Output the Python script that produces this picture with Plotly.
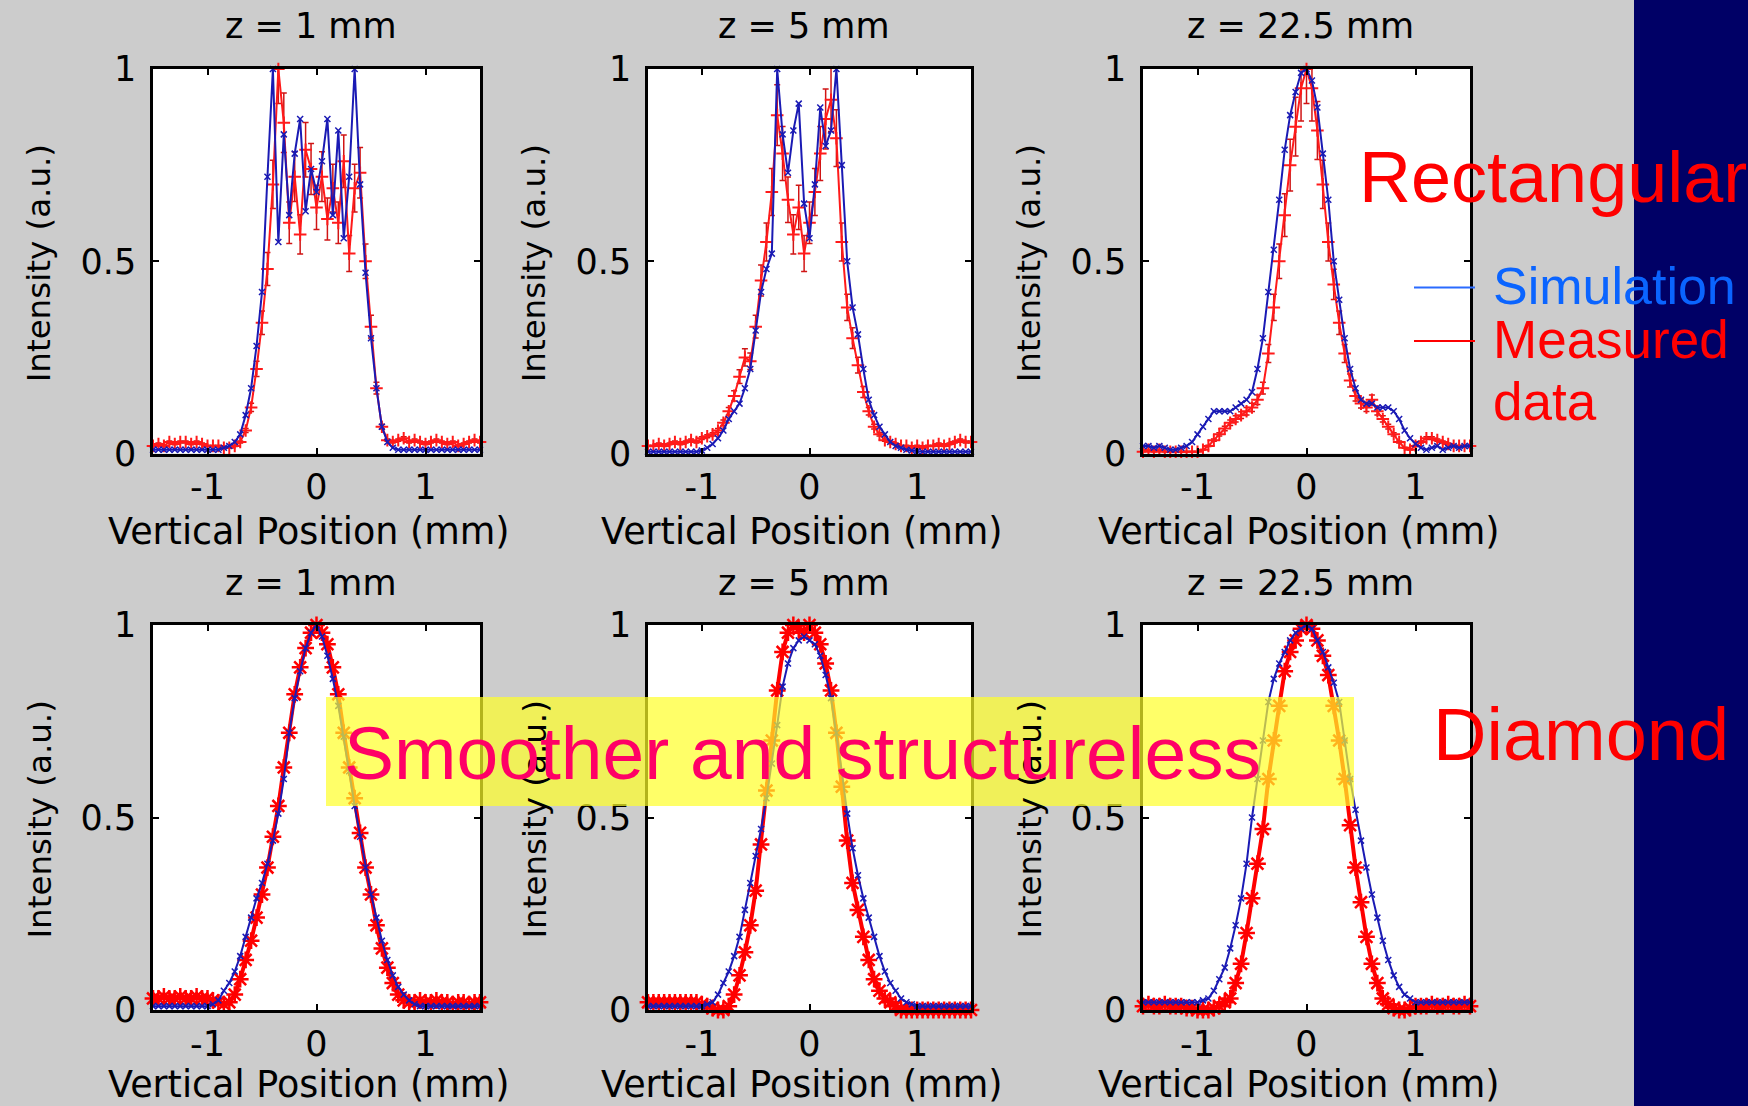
import plotly.graph_objects as go

W, H = 1748, 1106

# ---------------- data ----------------
XPOS = [-1.50, -1.45, -1.40, -1.35, -1.30, -1.25, -1.20, -1.15, -1.10, -1.05,
        -1.00, -0.95, -0.90, -0.85, -0.80, -0.75, -0.70, -0.65, -0.60, -0.55,
        -0.50, -0.45, -0.40, -0.35, -0.30, -0.25, -0.20, -0.15, -0.10, -0.05,
        0.00, 0.05, 0.10, 0.15, 0.20, 0.25, 0.30, 0.35, 0.40, 0.45,
        0.50, 0.55, 0.60, 0.65, 0.70, 0.75, 0.80, 0.85, 0.90, 0.95,
        1.00, 1.05, 1.10, 1.15, 1.20, 1.25, 1.30, 1.35, 1.40, 1.45, 1.50]

# Rectangular, z = 1 mm
SIM_RECT_1 = [0.01, 0.01, 0.01, 0.01, 0.01, 0.01, 0.01, 0.01, 0.01, 0.01, 0.01, 0.01, 0.01, 0.015, 0.02,
              0.03, 0.05, 0.10, 0.17, 0.28, 0.42, 0.72, 1.00, 0.55, 0.83, 0.62, 0.78, 0.87, 0.63, 0.74,
              0.68, 0.76, 0.87, 0.62, 0.84, 0.56, 0.72, 1.00, 0.70, 0.47, 0.30, 0.17, 0.07, 0.03, 0.015,
              0.01, 0.01, 0.01, 0.01, 0.01, 0.01, 0.01, 0.01, 0.01, 0.01, 0.01, 0.01, 0.01, 0.01, 0.01, 0.01]
MEAS_RECT_1 = [0.02, 0.025, 0.02, 0.03, 0.025, 0.03, 0.03, 0.025, 0.03, 0.025, 0.02, 0.02, 0.02, 0.015, 0.015,
               0.02, 0.03, 0.06, 0.12, 0.22, 0.34, 0.48, 0.70, 1.00, 0.86, 0.60, 0.72, 0.57, 0.79, 0.74,
               0.64, 0.72, 0.61, 0.69, 0.60, 0.76, 0.52, 0.69, 0.73, 0.50, 0.33, 0.17, 0.07, 0.035, 0.03,
               0.035, 0.04, 0.03, 0.035, 0.03, 0.025, 0.03, 0.035, 0.03, 0.025, 0.03, 0.02, 0.025, 0.03, 0.035, 0.03]

# Rectangular, z = 5 mm
SIM_RECT_5 = [0.005, 0.005, 0.005, 0.005, 0.005, 0.005, 0.005, 0.005, 0.005, 0.005, 0.008, 0.015, 0.025, 0.04, 0.06,
              0.09, 0.11, 0.13, 0.17, 0.22, 0.32, 0.42, 0.48, 0.52, 1.00, 0.83, 0.73, 0.84, 0.91, 0.65,
              0.56, 0.70, 0.90, 0.80, 0.84, 1.00, 0.75, 0.50, 0.38, 0.31, 0.22, 0.14, 0.10, 0.07, 0.05,
              0.03, 0.02, 0.015, 0.01, 0.008, 0.006, 0.005, 0.005, 0.005, 0.005, 0.005, 0.005, 0.005, 0.005, 0.005, 0.005]
MEAS_RECT_5 = [0.02, 0.02, 0.025, 0.02, 0.025, 0.03, 0.025, 0.03, 0.035, 0.03, 0.04, 0.045, 0.05, 0.06, 0.08,
               0.11, 0.15, 0.20, 0.25, 0.24, 0.33, 0.45, 0.55, 0.68, 0.88, 0.78, 0.66, 0.57, 0.64, 0.52,
               0.60, 0.68, 0.78, 0.87, 0.92, 0.82, 0.55, 0.38, 0.30, 0.23, 0.16, 0.11, 0.07, 0.05, 0.035,
               0.03, 0.025, 0.02, 0.02, 0.015, 0.02, 0.015, 0.02, 0.02, 0.025, 0.02, 0.025, 0.03, 0.035, 0.03, 0.03]

# Rectangular, z = 22.5 mm
SIM_RECT_22 = [0.02, 0.02, 0.015, 0.02, 0.015, 0.01, 0.01, 0.015, 0.02, 0.03, 0.05, 0.07, 0.09, 0.11, 0.11,
               0.11, 0.11, 0.12, 0.13, 0.14, 0.16, 0.22, 0.30, 0.42, 0.53, 0.66, 0.79, 0.88, 0.94, 0.99,
               1.00, 0.97, 0.90, 0.78, 0.66, 0.50, 0.40, 0.30, 0.22, 0.17, 0.14, 0.13, 0.13, 0.12, 0.12,
               0.12, 0.11, 0.09, 0.06, 0.04, 0.025, 0.015, 0.01, 0.015, 0.02, 0.01, 0.015, 0.02, 0.015, 0.02, 0.02]
MEAS_RECT_22 = [0.005, 0.01, 0.005, 0.01, 0.005, 0.005, 0.005, 0.005, 0.005, 0.005, 0.005, 0.01, 0.02, 0.035, 0.05,
                0.065, 0.08, 0.09, 0.10, 0.11, 0.12, 0.14, 0.17, 0.26, 0.38, 0.50, 0.62, 0.75, 0.85, 0.95,
                1.00, 0.95, 0.84, 0.70, 0.55, 0.44, 0.34, 0.26, 0.19, 0.15, 0.13, 0.12, 0.14, 0.11, 0.09,
                0.07, 0.05, 0.03, 0.015, 0.01, 0.02, 0.03, 0.04, 0.04, 0.035, 0.03, 0.025, 0.02, 0.02, 0.02, 0.02]

# Diamond, z = 1 mm
SIM_DIA_1 = [0.01, 0.01, 0.01, 0.01, 0.01, 0.01, 0.01, 0.01, 0.01, 0.01, 0.01, 0.015, 0.025, 0.05, 0.07,
             0.10, 0.14, 0.19, 0.24, 0.29, 0.33, 0.38, 0.44, 0.51, 0.60, 0.72, 0.81, 0.88, 0.94, 0.98,
             1.00, 0.97, 0.92, 0.86, 0.79, 0.71, 0.62, 0.53, 0.45, 0.37, 0.30, 0.24, 0.18, 0.13, 0.09,
             0.06, 0.04, 0.025, 0.015, 0.01, 0.01, 0.01, 0.01, 0.01, 0.01, 0.01, 0.01, 0.01, 0.01, 0.01, 0.01]
MEAS_DIA_1 = [0.03, 0.03, 0.035, 0.03, 0.03, 0.035, 0.03, 0.03, 0.035, 0.03, 0.03, 0.025, 0.02, 0.015, 0.02,
              0.04, 0.08, 0.13, 0.18, 0.24, 0.30, 0.37, 0.45, 0.53, 0.63, 0.72, 0.82, 0.89, 0.94, 0.98,
              1.00, 0.98, 0.95, 0.89, 0.82, 0.72, 0.63, 0.55, 0.46, 0.37, 0.30, 0.22, 0.16, 0.11, 0.07,
              0.04, 0.025, 0.02, 0.02, 0.025, 0.02, 0.02, 0.025, 0.02, 0.02, 0.015, 0.02, 0.02, 0.015, 0.02, 0.02]

# Diamond, z = 5 mm
SIM_DIA_5 = [0.01, 0.01, 0.01, 0.01, 0.01, 0.01, 0.01, 0.01, 0.01, 0.01, 0.01, 0.015, 0.02, 0.04, 0.07,
             0.10, 0.14, 0.19, 0.26, 0.33, 0.40, 0.47, 0.55, 0.64, 0.74, 0.84, 0.90, 0.94, 0.96, 0.97,
             0.96, 0.95, 0.92, 0.87, 0.81, 0.72, 0.62, 0.51, 0.42, 0.35, 0.29, 0.24, 0.19, 0.14, 0.10,
             0.07, 0.05, 0.03, 0.02, 0.015, 0.01, 0.01, 0.01, 0.01, 0.01, 0.01, 0.01, 0.01, 0.01, 0.01, 0.01]
MEAS_DIA_5 = [0.02, 0.02, 0.02, 0.02, 0.02, 0.02, 0.02, 0.02, 0.02, 0.02, 0.015, 0.01, 0.005, 0.0, 0.0,
              0.01, 0.04, 0.09, 0.15, 0.22, 0.31, 0.43, 0.57, 0.70, 0.83, 0.93, 0.98, 1.00, 0.99, 0.98,
              1.00, 0.98, 0.95, 0.90, 0.83, 0.72, 0.58, 0.44, 0.33, 0.26, 0.19, 0.13, 0.08, 0.05, 0.03,
              0.02, 0.01, 0.0, 0.0, 0.0, 0.0, 0.0, 0.0, 0.0, 0.0, 0.0, 0.0, 0.0, 0.0, 0.0, 0.0]

# Diamond, z = 22.5 mm
SIM_DIA_22 = [0.02, 0.02, 0.02, 0.02, 0.02, 0.02, 0.02, 0.02, 0.02, 0.02, 0.02, 0.025, 0.03, 0.05, 0.08,
              0.11, 0.16, 0.22, 0.29, 0.38, 0.50, 0.60, 0.70, 0.80, 0.86, 0.90, 0.93, 0.96, 0.98, 0.99,
              1.00, 0.99, 0.96, 0.93, 0.89, 0.85, 0.80, 0.70, 0.60, 0.52, 0.44, 0.37, 0.30, 0.24, 0.18,
              0.13, 0.09, 0.06, 0.04, 0.03, 0.02, 0.02, 0.02, 0.02, 0.02, 0.02, 0.02, 0.02, 0.02, 0.02, 0.02]
MEAS_DIA_22 = [0.01, 0.015, 0.01, 0.01, 0.015, 0.01, 0.01, 0.01, 0.005, 0.005, 0.0, 0.0, 0.0, 0.005, 0.01,
               0.02, 0.03, 0.07, 0.12, 0.20, 0.29, 0.38, 0.47, 0.60, 0.70, 0.79, 0.88, 0.93, 0.96, 0.99,
               1.00, 0.99, 0.96, 0.92, 0.87, 0.79, 0.70, 0.60, 0.48, 0.37, 0.28, 0.19, 0.12, 0.07, 0.03,
               0.015, 0.005, 0.0, 0.0, 0.005, 0.01, 0.01, 0.01, 0.015, 0.01, 0.01, 0.015, 0.01, 0.01, 0.015, 0.01]

PANEL_TITLES = ["z = 1 mm", "z = 5 mm", "z = 22.5 mm"]
X_LABEL = "Vertical Position (mm)"
Y_LABEL = "Intensity (a.u.)"
X_TICKS = [-1, 0, 1]
X_TICKTEXT = ["-1", "0", "1"]
Y_TICKS = [0, 0.5, 1]
Y_TICKTEXT = ["0", "0.5", "1"]

TOP_ROW = [(SIM_RECT_1, MEAS_RECT_1), (SIM_RECT_5, MEAS_RECT_5), (SIM_RECT_22, MEAS_RECT_22)]
BOTTOM_ROW = [(SIM_DIA_1, MEAS_DIA_1), (SIM_DIA_5, MEAS_DIA_5), (SIM_DIA_22, MEAS_DIA_22)]

# ---------------- layout helpers (pixel positions) ----------------
def px(x):
    return x / W

def py(y):
    return 1 - y / H

COL_PX = [(153, 480), (648, 971), (1143, 1470)]
ROW_PX = [(69, 453.6), (625, 1010)]

MATLAB_FONT = "DejaVu Sans"
PPT_FONT = "Liberation Sans, Arial"

fig = go.Figure()
layout_axes = {}
annotations = []

idx = 0
for r, row in enumerate([TOP_ROW, BOTTOM_ROW]):
    for c, (sim, meas) in enumerate(row):
        idx += 1
        xa = "x" if idx == 1 else f"x{idx}"
        ya = "y" if idx == 1 else f"y{idx}"
        xkey = "xaxis" if idx == 1 else f"xaxis{idx}"
        ykey = "yaxis" if idx == 1 else f"yaxis{idx}"
        x0, x1 = COL_PX[c]
        t0, t1 = ROW_PX[r]
        common = dict(
            ticks="inside", ticklen=6, tickwidth=2, tickcolor="black",
            showline=True, linecolor="black", linewidth=2.5, mirror="ticks",
            showgrid=False, zeroline=False, automargin=False,
            tickfont=dict(family=MATLAB_FONT, size=35, color="black"),
        )
        layout_axes[xkey] = dict(domain=[px(x0), px(x1)], anchor=ya, range=[-1.5, 1.5],
                                 tickmode="array", tickvals=X_TICKS, ticktext=X_TICKTEXT,
                                 ticklabelstandoff=1, **common)
        layout_axes[ykey] = dict(domain=[py(t1), py(t0)], anchor=xa, range=[0, 1],
                                 tickmode="array", tickvals=Y_TICKS, ticktext=Y_TICKTEXT,
                                 ticklabelstandoff=7, **common)

        if r == 0:
            fig.add_trace(go.Scatter(
                x=XPOS, y=meas, xaxis=xa, yaxis=ya, mode="lines+markers",
                line=dict(color="#ff1a1a", width=2),
                marker=dict(symbol="cross-thin-open", size=9, line=dict(color="#b01515", width=2)),
                error_y=dict(type="percent", value=9, color="#d01515", thickness=1.5, width=3),
                cliponaxis=False, showlegend=False))
            fig.add_trace(go.Scatter(
                x=XPOS, y=sim, xaxis=xa, yaxis=ya, mode="lines+markers",
                line=dict(color="#1a1ab4", width=2),
                marker=dict(symbol="x-thin-open", size=6, line=dict(color="#00007a", width=1.5)),
                cliponaxis=False, showlegend=False))
        else:
            fig.add_trace(go.Scatter(
                x=XPOS, y=meas, xaxis=xa, yaxis=ya, mode="lines+markers",
                line=dict(color="#ff0000", width=4),
                marker=dict(symbol="asterisk-open", size=14, line=dict(color="#c81e2a", width=2.5)),
                cliponaxis=False, showlegend=False))
            fig.add_trace(go.Scatter(
                x=XPOS, y=sim, xaxis=xa, yaxis=ya, mode="lines+markers",
                line=dict(color="#1a1ab4", width=2),
                marker=dict(symbol="x-thin-open", size=6, line=dict(color="#00007a", width=1.5)),
                cliponaxis=False, showlegend=False))

        cx = (x0 + x1) / 2
        cy = (t0 + t1) / 2
        title_y = 25.7 if r == 0 else 583
        xlab_y = 531 if r == 0 else 1084
        annotations.append(dict(text=PANEL_TITLES[c], x=px(cx - 6), y=py(title_y),
                                xanchor="center", yanchor="middle",
                                font=dict(family=MATLAB_FONT, size=35, color="black")))
        annotations.append(dict(text=X_LABEL, x=px(cx - 8), y=py(xlab_y),
                                xanchor="center", yanchor="middle",
                                font=dict(family=MATLAB_FONT, size=36.5, color="black")))
        annotations.append(dict(text=Y_LABEL, x=px(x0 - 114), y=py(cy + 2), textangle=-90,
                                xanchor="center", yanchor="middle",
                                font=dict(family=MATLAB_FONT, size=32.5, color="black")))

# slide texts
annotations += [
    dict(text="Rectangular", x=px(1357), y=py(176.9), xanchor="left", yanchor="middle",
         font=dict(family=PPT_FONT, size=72, color="#ff0000")),
    dict(text="Simulation", x=px(1491), y=py(285.5), xanchor="left", yanchor="middle",
         font=dict(family=PPT_FONT, size=52, color="#0a64ff")),
    dict(text="Measured", x=px(1491), y=py(340), xanchor="left", yanchor="middle",
         font=dict(family=PPT_FONT, size=53, color="#ff0000")),
    dict(text="data", x=px(1491), y=py(401.9), xanchor="left", yanchor="middle",
         font=dict(family=PPT_FONT, size=53, color="#ff0000")),
    dict(text="Diamond", x=px(1431), y=py(734.7), xanchor="left", yanchor="middle",
         font=dict(family=PPT_FONT, size=74, color="#ff0000")),
    dict(text="Smoother and structureless", x=px(342), y=py(753.3), xanchor="left", yanchor="middle",
         font=dict(family=PPT_FONT, size=75, color="#ff0066")),
]
for a in annotations:
    a.setdefault("xref", "paper")
    a.setdefault("yref", "paper")
    a.setdefault("showarrow", False)

shapes = [
    # dark navy strip on the right
    dict(type="rect", xref="paper", yref="paper", x0=px(1634), x1=1.01, y0=-0.01, y1=1.01,
         fillcolor="#000066", line=dict(width=0), layer="below"),
    # translucent yellow highlight band
    dict(type="rect", xref="paper", yref="paper", x0=px(326), x1=px(1354), y0=py(806), y1=py(697),
         fillcolor="rgba(255,255,40,0.70)", line=dict(width=0), layer="above"),
    # legend lines
    dict(type="line", xref="paper", yref="paper", x0=px(1414), x1=px(1475), y0=py(287.5), y1=py(287.5),
         line=dict(color="#2a6bff", width=2), layer="above"),
    dict(type="line", xref="paper", yref="paper", x0=px(1414), x1=px(1475), y0=py(341), y1=py(341),
         line=dict(color="#ff0000", width=2), layer="above"),
]

fig.update_layout(
    width=W, height=H,
    margin=dict(l=0, r=0, t=0, b=0, pad=0, autoexpand=False),
    paper_bgcolor="#cccccc", plot_bgcolor="white",
    showlegend=False,
    annotations=annotations,
    shapes=shapes,
    **layout_axes,
)

fig.write_html(
    "out.html",
    config={"displayModeBar": False},
    post_script="document.body.style.margin='0px';document.body.style.background='#cccccc';",
)
